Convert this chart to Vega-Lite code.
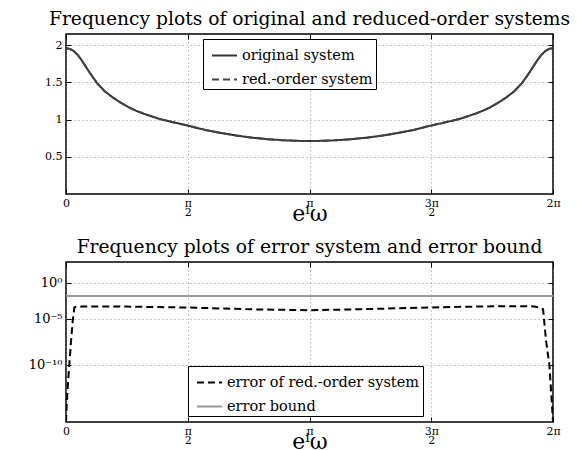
{
  "$schema": "https://vega.github.io/schema/vega-lite/v6.json",
  "padding": {"left": 27, "top": 9, "right": 0, "bottom": 0},
  "background": "white",
  "spacing": 12,
  "datasets": {
    "mag": [
      {"w": 0, "mag": 1.96, "series": "original system"},
      {"w": 0.05, "mag": 1.95, "series": "original system"},
      {"w": 0.1, "mag": 1.92, "series": "original system"},
      {"w": 0.15, "mag": 1.87, "series": "original system"},
      {"w": 0.2, "mag": 1.8, "series": "original system"},
      {"w": 0.3, "mag": 1.64, "series": "original system"},
      {"w": 0.4, "mag": 1.49, "series": "original system"},
      {"w": 0.5, "mag": 1.38, "series": "original system"},
      {"w": 0.6, "mag": 1.3, "series": "original system"},
      {"w": 0.7, "mag": 1.23, "series": "original system"},
      {"w": 0.8, "mag": 1.17, "series": "original system"},
      {"w": 0.9, "mag": 1.12, "series": "original system"},
      {"w": 1.0, "mag": 1.08, "series": "original system"},
      {"w": 1.2, "mag": 1.01, "series": "original system"},
      {"w": 1.4, "mag": 0.96, "series": "original system"},
      {"w": 1.5708, "mag": 0.92, "series": "original system"},
      {"w": 1.8, "mag": 0.86, "series": "original system"},
      {"w": 2.0, "mag": 0.82, "series": "original system"},
      {"w": 2.2, "mag": 0.785, "series": "original system"},
      {"w": 2.4, "mag": 0.757, "series": "original system"},
      {"w": 2.6, "mag": 0.737, "series": "original system"},
      {"w": 2.8, "mag": 0.722, "series": "original system"},
      {"w": 3.0, "mag": 0.714, "series": "original system"},
      {"w": 3.1416, "mag": 0.712, "series": "original system"},
      {"w": 3.2832, "mag": 0.714, "series": "original system"},
      {"w": 3.4832, "mag": 0.722, "series": "original system"},
      {"w": 3.6832, "mag": 0.737, "series": "original system"},
      {"w": 3.8832, "mag": 0.757, "series": "original system"},
      {"w": 4.0832, "mag": 0.785, "series": "original system"},
      {"w": 4.2832, "mag": 0.82, "series": "original system"},
      {"w": 4.4832, "mag": 0.86, "series": "original system"},
      {"w": 4.7124, "mag": 0.92, "series": "original system"},
      {"w": 4.8832, "mag": 0.96, "series": "original system"},
      {"w": 5.0832, "mag": 1.01, "series": "original system"},
      {"w": 5.2832, "mag": 1.08, "series": "original system"},
      {"w": 5.3832, "mag": 1.12, "series": "original system"},
      {"w": 5.4832, "mag": 1.17, "series": "original system"},
      {"w": 5.5832, "mag": 1.23, "series": "original system"},
      {"w": 5.6832, "mag": 1.3, "series": "original system"},
      {"w": 5.7832, "mag": 1.38, "series": "original system"},
      {"w": 5.8832, "mag": 1.49, "series": "original system"},
      {"w": 5.9832, "mag": 1.64, "series": "original system"},
      {"w": 6.0832, "mag": 1.8, "series": "original system"},
      {"w": 6.1332, "mag": 1.87, "series": "original system"},
      {"w": 6.1832, "mag": 1.92, "series": "original system"},
      {"w": 6.2332, "mag": 1.95, "series": "original system"},
      {"w": 6.2832, "mag": 1.96, "series": "original system"},
      {"w": 0, "mag": 1.96, "series": "red.-order system"},
      {"w": 0.05, "mag": 1.95, "series": "red.-order system"},
      {"w": 0.1, "mag": 1.92, "series": "red.-order system"},
      {"w": 0.15, "mag": 1.87, "series": "red.-order system"},
      {"w": 0.2, "mag": 1.8, "series": "red.-order system"},
      {"w": 0.3, "mag": 1.64, "series": "red.-order system"},
      {"w": 0.4, "mag": 1.49, "series": "red.-order system"},
      {"w": 0.5, "mag": 1.38, "series": "red.-order system"},
      {"w": 0.6, "mag": 1.3, "series": "red.-order system"},
      {"w": 0.7, "mag": 1.23, "series": "red.-order system"},
      {"w": 0.8, "mag": 1.17, "series": "red.-order system"},
      {"w": 0.9, "mag": 1.12, "series": "red.-order system"},
      {"w": 1.0, "mag": 1.08, "series": "red.-order system"},
      {"w": 1.2, "mag": 1.01, "series": "red.-order system"},
      {"w": 1.4, "mag": 0.96, "series": "red.-order system"},
      {"w": 1.5708, "mag": 0.92, "series": "red.-order system"},
      {"w": 1.8, "mag": 0.86, "series": "red.-order system"},
      {"w": 2.0, "mag": 0.82, "series": "red.-order system"},
      {"w": 2.2, "mag": 0.785, "series": "red.-order system"},
      {"w": 2.4, "mag": 0.757, "series": "red.-order system"},
      {"w": 2.6, "mag": 0.737, "series": "red.-order system"},
      {"w": 2.8, "mag": 0.722, "series": "red.-order system"},
      {"w": 3.0, "mag": 0.714, "series": "red.-order system"},
      {"w": 3.1416, "mag": 0.712, "series": "red.-order system"},
      {"w": 3.2832, "mag": 0.714, "series": "red.-order system"},
      {"w": 3.4832, "mag": 0.722, "series": "red.-order system"},
      {"w": 3.6832, "mag": 0.737, "series": "red.-order system"},
      {"w": 3.8832, "mag": 0.757, "series": "red.-order system"},
      {"w": 4.0832, "mag": 0.785, "series": "red.-order system"},
      {"w": 4.2832, "mag": 0.82, "series": "red.-order system"},
      {"w": 4.4832, "mag": 0.86, "series": "red.-order system"},
      {"w": 4.7124, "mag": 0.92, "series": "red.-order system"},
      {"w": 4.8832, "mag": 0.96, "series": "red.-order system"},
      {"w": 5.0832, "mag": 1.01, "series": "red.-order system"},
      {"w": 5.2832, "mag": 1.08, "series": "red.-order system"},
      {"w": 5.3832, "mag": 1.12, "series": "red.-order system"},
      {"w": 5.4832, "mag": 1.17, "series": "red.-order system"},
      {"w": 5.5832, "mag": 1.23, "series": "red.-order system"},
      {"w": 5.6832, "mag": 1.3, "series": "red.-order system"},
      {"w": 5.7832, "mag": 1.38, "series": "red.-order system"},
      {"w": 5.8832, "mag": 1.49, "series": "red.-order system"},
      {"w": 5.9832, "mag": 1.64, "series": "red.-order system"},
      {"w": 6.0832, "mag": 1.8, "series": "red.-order system"},
      {"w": 6.1332, "mag": 1.87, "series": "red.-order system"},
      {"w": 6.1832, "mag": 1.92, "series": "red.-order system"},
      {"w": 6.2332, "mag": 1.95, "series": "red.-order system"},
      {"w": 6.2832, "mag": 1.96, "series": "red.-order system"}
    ],
    "err": [
      {"w": 0, "log_err": -15.7, "series": "error of red.-order system"},
      {"w": 0.008, "log_err": -14.3, "series": "error of red.-order system"},
      {"w": 0.021, "log_err": -12.4, "series": "error of red.-order system"},
      {"w": 0.043, "log_err": -10, "series": "error of red.-order system"},
      {"w": 0.065, "log_err": -7.5, "series": "error of red.-order system"},
      {"w": 0.086, "log_err": -5.27, "series": "error of red.-order system"},
      {"w": 0.108, "log_err": -3.6, "series": "error of red.-order system"},
      {"w": 0.2, "log_err": -3.52, "series": "error of red.-order system"},
      {"w": 0.4, "log_err": -3.5, "series": "error of red.-order system"},
      {"w": 0.785, "log_err": -3.52, "series": "error of red.-order system"},
      {"w": 1.2, "log_err": -3.58, "series": "error of red.-order system"},
      {"w": 1.5708, "log_err": -3.63, "series": "error of red.-order system"},
      {"w": 2.0, "log_err": -3.75, "series": "error of red.-order system"},
      {"w": 2.5, "log_err": -3.88, "series": "error of red.-order system"},
      {"w": 3.1416, "log_err": -3.96, "series": "error of red.-order system"},
      {"w": 3.8, "log_err": -3.85, "series": "error of red.-order system"},
      {"w": 4.3, "log_err": -3.72, "series": "error of red.-order system"},
      {"w": 4.7124, "log_err": -3.63, "series": "error of red.-order system"},
      {"w": 5.2, "log_err": -3.53, "series": "error of red.-order system"},
      {"w": 5.6, "log_err": -3.47, "series": "error of red.-order system"},
      {"w": 6.0, "log_err": -3.47, "series": "error of red.-order system"},
      {"w": 6.039, "log_err": -3.5, "series": "error of red.-order system"},
      {"w": 6.1, "log_err": -3.6, "series": "error of red.-order system"},
      {"w": 6.155, "log_err": -3.83, "series": "error of red.-order system"},
      {"w": 6.194, "log_err": -7.5, "series": "error of red.-order system"},
      {"w": 6.236, "log_err": -10, "series": "error of red.-order system"},
      {"w": 6.267, "log_err": -13.7, "series": "error of red.-order system"},
      {"w": 6.2832, "log_err": -15.7, "series": "error of red.-order system"},
      {"w": 0, "log_err": -2.15, "series": "error bound"},
      {"w": 6.2832, "log_err": -2.15, "series": "error bound"}
    ]
  },
  "config": {
    "font": "DejaVu Serif",
    "view": {"stroke": "black", "strokeWidth": 1.5},
    "title": {"font": "DejaVu Serif", "fontSize": 18.7, "fontWeight": "normal", "color": "black", "offset": 5},
    "axis": {
      "labelFont": "DejaVu Serif", "labelFontSize": 11, "labelColor": "black",
      "titleFont": "DejaVu Serif", "titleFontWeight": "normal", "titleColor": "black",
      "grid": true, "gridColor": "#777", "gridDash": [1, 3], "gridWidth": 0.8,
      "domain": false, "tickColor": "black", "tickSize": -5, "tickWidth": 1
    },
    "legend": {
      "orient": "none", "labelFont": "DejaVu Serif", "labelFontSize": 14.5, "labelColor": "black",
      "strokeColor": "black", "fillColor": "white", "padding": 3, "symbolType": "stroke",
      "symbolSize": 625, "symbolStrokeWidth": 2, "rowPadding": 4, "labelOffset": 4, "symbolOffset": 5,
      "labelLimit": 400
    }
  },
  "vconcat": [
    {
      "title": "Frequency plots of original and reduced-order systems",
      "width": 487, "height": 160,
      "data": {"name": "mag"},
      "layer": [
        {
          "mark": {"type": "line", "strokeWidth": 2, "clip": true},
          "encoding": {
            "x": {"field": "w", "type": "quantitative",
              "scale": {"domain": [0, 6.2832], "nice": false, "zero": false},
              "axis": {"values": [0, 1.5708, 3.1416, 4.7124, 6.2832],
                "labelExpr": "datum.value < 0.1 ? '0' : datum.value < 2 ? ['π','2'] : datum.value < 3.5 ? 'π' : datum.value < 5 ? ['3π','2'] : '2π'",
                "labelLineHeight": 9, "labelPadding": 8, "title": "eⁱω", "titleFontSize": 22, "titlePadding": -14, "labelFlush": false}},
            "y": {"field": "mag", "type": "quantitative",
              "scale": {"domain": [0, 2.15], "nice": false, "zero": false},
              "axis": {"values": [0.5, 1, 1.5, 2], "format": "~g", "labelPadding": 9, "title": null}},
            "color": {"field": "series", "type": "nominal",
              "scale": {"domain": ["original system", "red.-order system"], "range": ["#333333", "#444444"]},
              "legend": {"legendX": 137, "legendY": 5, "title": null}},
            "strokeDash": {"field": "series", "type": "nominal",
              "scale": {"domain": ["original system", "red.-order system"], "range": [[1, 0], [7, 4]]},
              "legend": {"legendX": 137, "legendY": 5, "title": null}}
          }
        },
        {
          "mark": {"type": "line", "opacity": 0},
          "encoding": {
            "x": {"field": "w", "type": "quantitative",
              "axis": {"orient": "top", "values": [0, 1.5708, 3.1416, 4.7124, 6.2832], "labels": false, "grid": false, "title": null}},
            "y": {"field": "mag", "type": "quantitative",
              "axis": {"orient": "right", "values": [0.5, 1, 1.5, 2], "labels": false, "grid": false, "title": null}}
          }
        }
      ],
      "resolve": {"axis": {"x": "independent", "y": "independent"}}
    },
    {
      "title": "Frequency plots of error system and error bound",
      "width": 487, "height": 160,
      "data": {"name": "err"},
      "layer": [
        {
          "mark": {"type": "line", "strokeWidth": 2, "clip": true},
          "encoding": {
            "x": {"field": "w", "type": "quantitative",
              "scale": {"domain": [0, 6.2832], "nice": false, "zero": false},
              "axis": {"values": [0, 1.5708, 3.1416, 4.7124, 6.2832],
                "labelExpr": "datum.value < 0.1 ? '0' : datum.value < 2 ? ['π','2'] : datum.value < 3.5 ? 'π' : datum.value < 5 ? ['3π','2'] : '2π'",
                "labelLineHeight": 9, "labelPadding": 8, "title": "eⁱω", "titleFontSize": 22, "titlePadding": -14, "labelFlush": false}},
            "y": {"field": "log_err", "type": "quantitative",
              "scale": {"type": "pow", "exponent": 1.18, "domain": [-15.7, 3.13], "nice": false, "zero": false},
              "axis": {"values": [0, -5, -10], "labelPadding": 9, "title": null,
                "labelExpr": "datum.value == 0 ? '10⁰' : datum.value == -5 ? '10⁻⁵' : '10⁻¹⁰'", "labelFontSize": 13}},
            "color": {"field": "series", "type": "nominal",
              "scale": {"domain": ["error of red.-order system", "error bound"], "range": ["#000000", "#999999"]},
              "legend": {"legendX": 122, "legendY": 104, "title": null}},
            "strokeDash": {"field": "series", "type": "nominal",
              "scale": {"domain": ["error of red.-order system", "error bound"], "range": [[7, 4], [1, 0]]},
              "legend": {"legendX": 122, "legendY": 104, "title": null}}
          }
        },
        {
          "mark": {"type": "line", "opacity": 0},
          "encoding": {
            "x": {"field": "w", "type": "quantitative",
              "axis": {"orient": "top", "values": [0, 1.5708, 3.1416, 4.7124, 6.2832], "labels": false, "grid": false, "title": null}},
            "y": {"field": "log_err", "type": "quantitative",
              "axis": {"orient": "right", "values": [0, -5, -10], "labels": false, "grid": false, "title": null}}
          }
        }
      ],
      "resolve": {"axis": {"x": "independent", "y": "independent"}}
    }
  ],
  "resolve": {"scale": {"color": "independent", "strokeDash": "independent"}}
}
